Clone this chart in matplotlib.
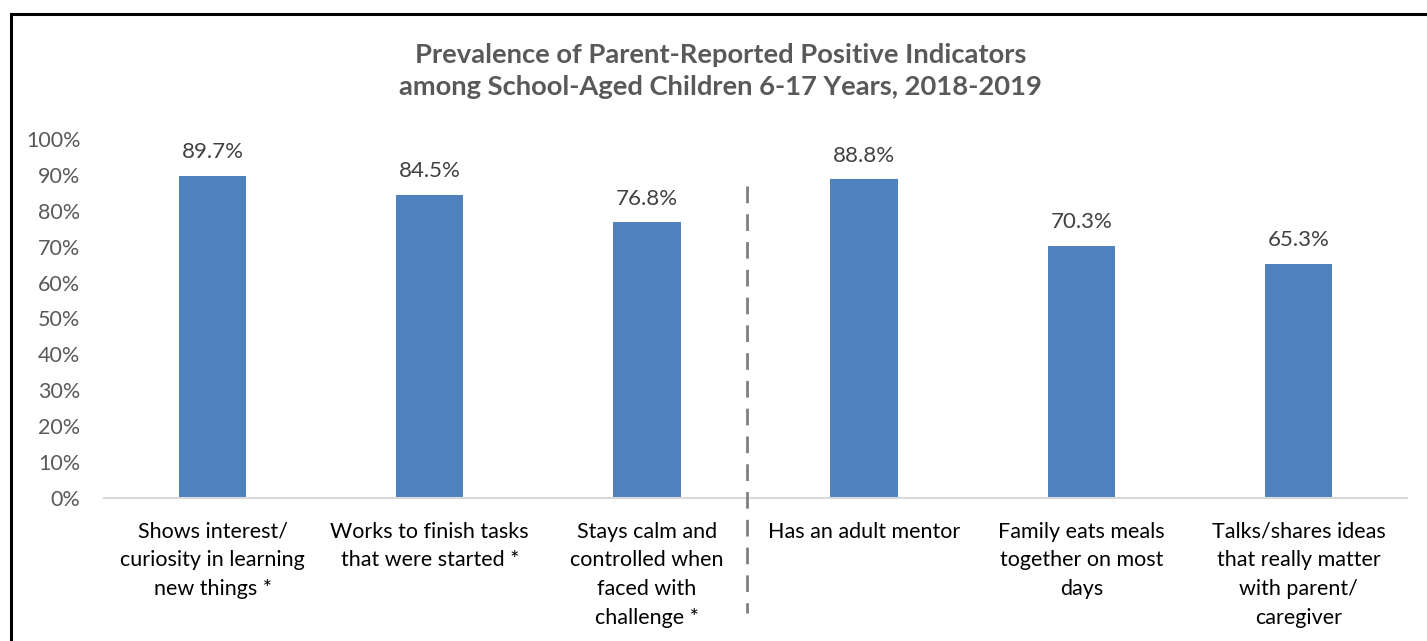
import matplotlib
matplotlib.use('Agg')
import matplotlib.pyplot as plt
from matplotlib.patches import Rectangle

categories = ['Shows interest/\ncuriosity in learning\nnew things *',
              'Works to finish tasks\nthat were started *',
              'Stays calm and\ncontrolled when\nfaced with\nchallenge *',
              'Has an adult mentor',
              'Family eats meals\ntogether on most\ndays',
              'Talks/shares ideas\nthat really matter\nwith parent/\ncaregiver']
values = [89.7, 84.5, 76.8, 88.8, 70.3, 65.3]
yticks = [0, 10, 20, 30, 40, 50, 60, 70, 80, 90, 100]
divider_x = 2.46
title = 'Prevalence of Parent-Reported Positive Indicators\namong School-Aged Children 6-17 Years, 2018-2019'

plt.rcParams['font.family'] = ['Lato', 'DejaVu Sans']

fig = plt.figure(figsize=(14.27, 6.41), dpi=100)
ax = fig.add_axes([0.0729, 0.2231, 0.9131, 0.5601])

x = list(range(len(values)))
ax.bar(x, values, width=0.31, color='#4F81BD', zorder=2)
for xi, v in zip(x, values):
    ax.annotate('%.1f%%' % v, (xi, v), xytext=(0, 17), textcoords='offset points',
                ha='center', va='center', fontsize=16, color='#404040')

ax.set_xlim(-0.5, len(values) - 0.5)
ax.set_ylim(0, 100)
ax.set_yticks(yticks)
ax.set_yticklabels(['%d%%' % t for t in yticks], fontsize=15.5, color='#595959')
ax.set_xticks(x)
ax.set_xticklabels(categories, fontsize=15.5, color='#000000', linespacing=1.54)
ax.tick_params(axis='both', length=0)
ax.tick_params(axis='x', pad=17)
ax.tick_params(axis='y', pad=17)
for s in ['top', 'right', 'left']:
    ax.spines[s].set_visible(False)
ax.spines['bottom'].set_color('#D9D9D9')
ax.spines['bottom'].set_linewidth(1.5)

ax.plot([divider_x, divider_x], [87, -32], color='#7F7F7F', lw=2, ls=(0, (6, 4)),
        clip_on=False, zorder=3)

fig.text(0.505, 0.889, title, ha='center', va='center', fontsize=19.7, fontweight='bold',
         color='#595959', linespacing=1.4)

fig.add_artist(Rectangle((11 / 1427, -0.1), 1.2, 1.1 - 14 / 641, transform=fig.transFigure,
                         fill=False, edgecolor='black', lw=2.2))

fig.savefig('out.png', dpi=100)
